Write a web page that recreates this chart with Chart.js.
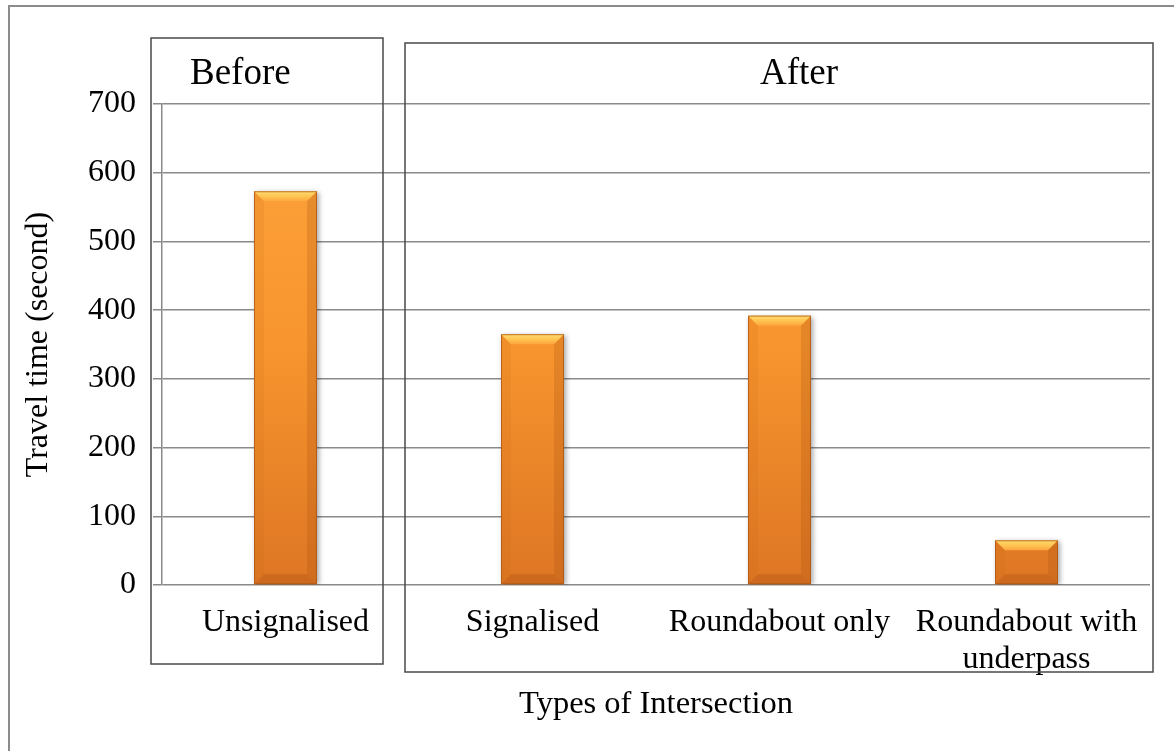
<!DOCTYPE html>
<html>
<head>
<meta charset="utf-8">
<title>Travel time by type of intersection</title>
<script src="https://cdn.jsdelivr.net/npm/chart.js@4/dist/chart.umd.min.js"></script>
<style>
    html, body {
        margin: 0;
        padding: 0;
        background: #ffffff;
    }
    #wrap {
        position: relative;
        width: 1174px;
        height: 751px;
    }
</style>
</head>
<body>
<div id="wrap">
    <canvas id="travelChart" width="1174" height="751"></canvas>
</div>
<script>
const categories = ['Unsignalised', 'Signalised', 'Roundabout only', ['Roundabout with', 'underpass']];
const travelTimes = [573, 365, 392, 65];
const yTicks = [0, 100, 200, 300, 400, 500, 600, 700];

// before / after groups, as [first category index, last category index]
const groupNames = ['Before', 'After'];
const groupSpans = [[0, 0], [1, 3]];

const FONT = '"Liberation Serif", "Times New Roman", serif';
const GRID_COLOR = '#8a8a8a';


function barGradient(context) {
    const chart = context.chart;
    const area = chart.chartArea;
    if (!area) return '#f7962f';
    const g = chart.ctx.createLinearGradient(0, area.top, 0, area.bottom);
    g.addColorStop(0, '#fda43c');
    g.addColorStop(0.5, '#f8952e');
    g.addColorStop(1, '#de7624');
    return g;
}


// soft drop shadow under the bars
const barShadow = {
    id: 'barShadow',
    beforeDatasetsDraw(chart) {
        const ctx = chart.ctx;
        ctx.save();
        ctx.shadowColor = 'rgba(0, 0, 0, 0.35)';
        ctx.shadowBlur = 5;
        ctx.shadowOffsetX = 2;
        ctx.shadowOffsetY = 1;
    },
    afterDatasetsDraw(chart) {
        chart.ctx.restore();
    }
};


// bevelled edges drawn on top of each bar element
const barBevel = {
    id: 'barBevel',
    afterDatasetsDraw(chart) {
        const ctx = chart.ctx;
        const meta = chart.getDatasetMeta(0);

        meta.data.forEach((bar) => {
            const props = bar.getProps(['x', 'y', 'base', 'width'], true);
            const left = props.x - props.width / 2;
            const right = props.x + props.width / 2;
            const top = props.y;
            const bottom = props.base;
            const b = Math.min(10, (bottom - top) / 3);

            ctx.save();

            const topGrad = ctx.createLinearGradient(0, top, 0, top + b);
            topGrad.addColorStop(0, '#ffdc70');
            topGrad.addColorStop(0.5, '#ffc552');
            topGrad.addColorStop(1, '#fca63e');
            ctx.fillStyle = topGrad;
            ctx.beginPath();
            ctx.moveTo(left, top);
            ctx.lineTo(right, top);
            ctx.lineTo(right - b, top + b);
            ctx.lineTo(left + b, top + b);
            ctx.closePath();
            ctx.fill();

            ctx.fillStyle = 'rgba(190, 95, 20, 0.12)';
            ctx.beginPath();
            ctx.moveTo(left, top);
            ctx.lineTo(left + b, top + b);
            ctx.lineTo(left + b, bottom - b);
            ctx.lineTo(left, bottom);
            ctx.closePath();
            ctx.fill();

            ctx.fillStyle = 'rgba(150, 70, 10, 0.2)';
            ctx.beginPath();
            ctx.moveTo(right, top);
            ctx.lineTo(right - b, top + b);
            ctx.lineTo(right - b, bottom - b);
            ctx.lineTo(right, bottom);
            ctx.closePath();
            ctx.fill();

            ctx.fillStyle = 'rgba(140, 60, 10, 0.22)';
            ctx.beginPath();
            ctx.moveTo(left, bottom);
            ctx.lineTo(left + b, bottom - b);
            ctx.lineTo(right - b, bottom - b);
            ctx.lineTo(right, bottom);
            ctx.closePath();
            ctx.fill();

            ctx.strokeStyle = 'rgba(170, 85, 20, 0.75)';
            ctx.lineWidth = 1;
            ctx.strokeRect(left + 0.5, top + 0.5, right - left - 1, bottom - top - 1);

            ctx.restore();
        });
    }
};


// outer frame plus the Before / After boxes with their headings
const groupBoxes = {
    id: 'groupBoxes',
    afterDraw(chart) {
        const ctx = chart.ctx;
        const area = chart.chartArea;
        const x = chart.scales.x;
        const step = x.getPixelForValue(1) - x.getPixelForValue(0);

        ctx.save();

        ctx.strokeStyle = '#8c8c8c';
        ctx.lineWidth = 2;
        ctx.strokeRect(9, 6, chart.width + 20, chart.height + 20);

        const boxes = [
            {
                left: area.left - 11,
                right: x.getPixelForValue(groupSpans[0][1]) + step / 2 - 26,
                top: area.top - 66,
                bottom: area.bottom + 79
            },
            {
                left: x.getPixelForValue(groupSpans[1][0]) - step / 2 - 4,
                right: area.right + 3,
                top: area.top - 61,
                bottom: area.bottom + 87
            }
        ];

        ctx.strokeStyle = '#4a4a4a';
        ctx.lineWidth = 1.5;
        boxes.forEach((box) => {
            ctx.strokeRect(box.left, box.top, box.right - box.left, box.bottom - box.top);
        });

        ctx.fillStyle = '#000000';
        ctx.font = '37px ' + FONT;
        ctx.textBaseline = 'alphabetic';

        ctx.textAlign = 'left';
        ctx.fillText(groupNames[0], boxes[0].left + 39, area.top - 20);

        ctx.textAlign = 'center';
        ctx.fillText(groupNames[1], (boxes[1].left + boxes[1].right) / 2 + 20, area.top - 20);

        ctx.restore();
    }
};


const ctx = document.getElementById('travelChart').getContext('2d');

new Chart(ctx, {
    type: 'bar',
    data: {
        labels: categories,
        datasets: [
            {
                data: travelTimes,
                backgroundColor: barGradient,
                borderWidth: 0,
                barPercentage: 0.255,
                categoryPercentage: 1.0
            }
        ]
    },
    options: {
        responsive: false,
        animation: false,
        layout: {
            padding: { top: 104, left: 0, right: 24, bottom: 0 }
        },
        plugins: {
            legend: { display: false },
            tooltip: { enabled: false }
        },
        scales: {
            x: {
                afterFit(scale) {
                    scale.height = 166;
                },
                grid: { display: false, drawTicks: false },
                border: { display: false },
                ticks: {
                    color: '#000000',
                    padding: 19,
                    maxRotation: 0,
                    autoSkip: false,
                    font: { family: FONT, size: 32, lineHeight: 1.15 }
                },
                title: {
                    display: true,
                    text: 'Types of Intersection',
                    color: '#000000',
                    padding: { top: 0, bottom: 27 },
                    font: { family: FONT, size: 32.5, lineHeight: 1.2 }
                }
            },
            y: {
                min: 0,
                max: 700,
                afterFit(scale) {
                    scale.width = 162;
                },
                afterBuildTicks(scale) {
                    scale.ticks = yTicks.map((v) => ({ value: v }));
                },
                grid: {
                    color: GRID_COLOR,
                    tickColor: GRID_COLOR,
                    lineWidth: 1.5,
                    tickLength: 9
                },
                border: { display: true, color: GRID_COLOR, width: 1.5 },
                ticks: {
                    color: '#000000',
                    padding: 17,
                    font: { family: FONT, size: 32 }
                },
                title: {
                    display: true,
                    text: 'Travel time (second)',
                    color: '#000000',
                    padding: { top: 19, bottom: 0 },
                    font: { family: FONT, size: 32, lineHeight: 1.2 }
                }
            }
        }
    },
    plugins: [barShadow, barBevel, groupBoxes]
});
</script>
</body>
</html>
